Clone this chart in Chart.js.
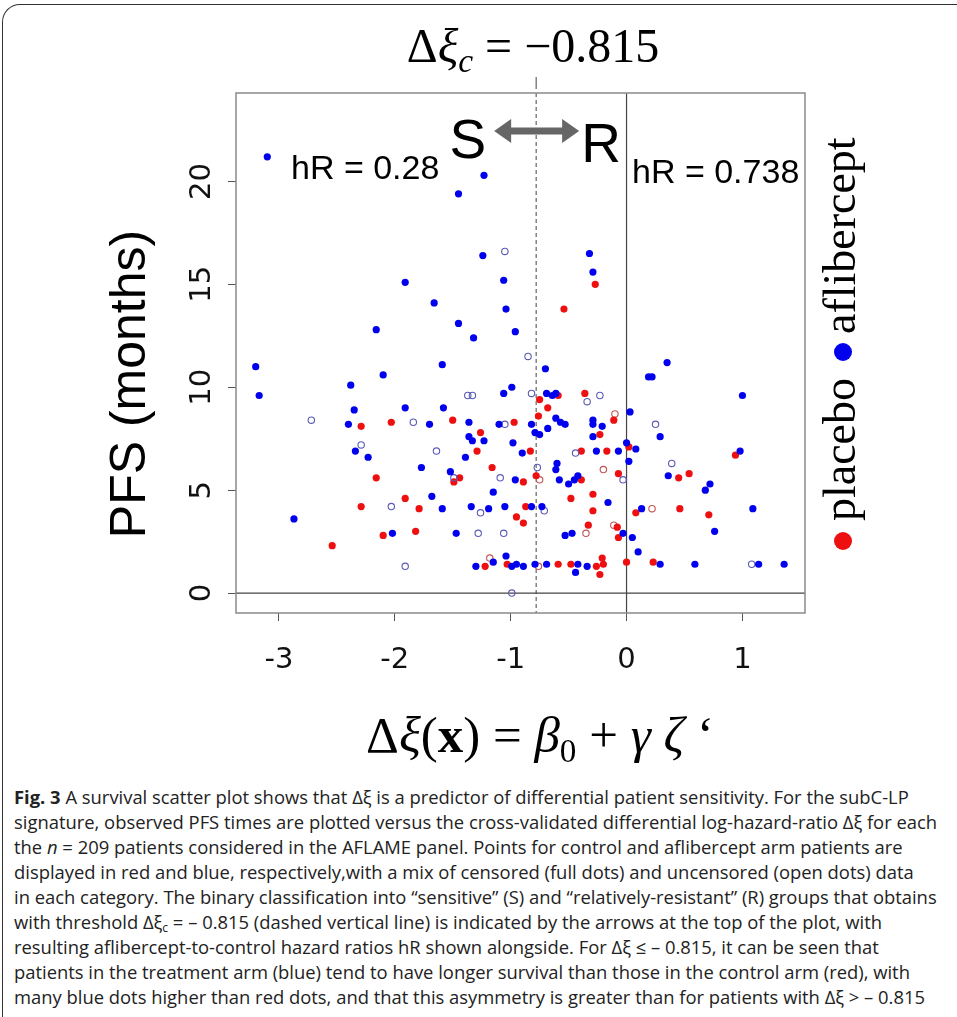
<!DOCTYPE html>
<html>
<head>
<meta charset="utf-8">
<script src="https://cdn.jsdelivr.net/npm/chart.js@4.4.1/dist/chart.umd.min.js"></script>
<style>
  html, body { margin: 0; padding: 0; background: #fff; }
  body { width: 957px; height: 1017px; overflow: hidden; position: relative; }
  #frame { position: absolute; left: 2px; top: 4px; width: 1000px; height: 1100px;
           border-left: 1.5px solid #333; border-top: 1.5px solid #333; border-top-left-radius: 18px; }
  #wrap { position: absolute; left: 0; top: 0; width: 957px; height: 775px; }
  #cap { position: absolute; left: 14px; top: 784px; font-family: "Open Sans"; font-size: 18.4px;
         line-height: 25px; color: #222; white-space: nowrap; }
  #cap .sub { font-size: 12px; line-height: 0; vertical-align: -3px; }
</style>
</head>
<body>
<div id="frame"></div>
<div id="wrap"><canvas id="c" width="957" height="775"></canvas></div>
<div id="cap"><b>Fig. 3</b> A survival scatter plot shows that Δξ is a predictor of differential patient sensitivity. For the subC-LP<br>
signature, observed PFS times are plotted versus the cross-validated differential log-hazard-ratio Δξ for each<br>
the <i>n</i> = 209 patients considered in the AFLAME panel. Points for control and aflibercept arm patients are<br>
displayed in red and blue, respectively,with a mix of censored (full dots) and uncensored (open dots) data<br>
in each category. The binary classification into “sensitive” (S) and “relatively-resistant” (R) groups that obtains<br>
with threshold Δξ<span class="sub">c</span> = – 0.815 (dashed vertical line) is indicated by the arrows at the top of the plot, with<br>
resulting aflibercept-to-control hazard ratios hR shown alongside. For Δξ ≤ – 0.815, it can be seen that<br>
patients in the treatment arm (blue) tend to have longer survival than those in the control arm (red), with<br>
many blue dots higher than red dots, and that this asymmetry is greater than for patients with Δξ &gt; – 0.815</div>

<script>
// ---- axes ----
const X_TICKS = [-3, -2, -1, 0, 1];
const Y_TICKS = [0, 5, 10, 15, 20];
const X_MIN = -3.37, X_MAX = 1.54;
const Y_MIN = -0.97, Y_MAX = 24.3;
const THRESHOLD = -0.78;   // where the dashed line sits in the picture (labelled -0.815)

// ---- data: [dxi, PFS months] ----
// aflibercept arm, full dots
const afliFull = [
  [-3.10,21.2],[-1.23,20.3],[-1.45,19.4],[-1.24,16.4],[-0.32,16.5],[-0.29,15.6],
  [-1.91,15.1],[-1.66,14.1],[-2.16,12.8],[-3.20,11.0],[-2.10,10.6],[-2.38,10.1],[-3.17,9.6],
  [-2.35,8.9],[-1.91,9.0],[-2.40,8.2],[-1.70,8.2],
  [-1.06,15.2],[-1.04,13.8],[-1.45,13.1],[-1.32,12.4],[-0.96,12.7],[-1.59,11.1],[-0.70,10.9],
  [-0.99,10.0],[-1.06,9.7],[-0.69,9.7],[-0.64,9.6],[-0.61,9.7],[-1.58,9.0],[0.03,8.8],
  [-1.36,8.3],[-1.10,8.2],[-0.82,8.2],[-0.61,8.5],[-0.57,8.3],[-0.53,8.2],[-0.29,8.4],
  [-0.29,8.2],[-0.21,8.1],[-1.36,7.6],[-0.79,7.8],[-0.75,7.7],[-0.68,8.0],[-0.29,7.6],
  [0.35,11.2],[0.19,10.5],[0.22,10.5],[1.00,9.6],[0.29,7.6],
  [-2.34,6.9],[-2.23,6.6],[-1.77,6.1],[-1.68,4.7],[-2.87,3.6],[-2.02,2.9],
  [-1.33,7.4],[-1.23,7.4],[-1.39,6.6],[-0.98,7.3],[-0.90,6.8],[-0.26,6.9],[-0.07,6.9],[0.00,7.3],
  [-1.52,5.9],[-0.96,5.5],[-0.60,6.3],[-0.61,6.0],[-0.58,5.5],[-0.50,5.3],[-0.45,5.5],[-0.42,5.7],
  [-1.15,4.9],[-0.16,4.4],[-1.59,4.1],[-1.34,4.2],[-1.19,4.1],[-1.05,4.2],[-0.82,4.2],[-0.73,4.2],
  [-0.03,2.9],[-1.47,2.9],[-0.53,2.8],[-0.47,2.9],[-1.04,1.8],[-1.15,1.5],
  [-1.30,1.3],[-0.95,1.4],[-0.99,1.3],[-0.89,1.3],[-0.79,1.4],[-0.69,1.4],[-0.42,1.4],[-0.44,1.0],[-0.34,1.3],
  [0.08,7.0],[0.02,6.4],[0.36,5.7],[0.72,5.3],[0.68,5.0],[0.98,6.9],[0.13,4.1],[1.09,4.1],
  [0.76,3.0],[0.05,2.7],[0.10,2.0],[0.29,1.4],[0.59,1.4],[1.14,1.4],[1.36,1.4]
];
// aflibercept arm, open dots
const afliOpen = [
  [-1.05,16.6],[-0.85,11.5],[-1.37,9.6],[-1.33,9.6],[-0.82,9.7],[-0.23,9.6],[-0.34,9.3],
  [-1.05,8.2],[-2.72,8.4],[-1.84,8.3],[0.25,8.2],[-2.29,7.2],[-2.03,4.2],[-1.91,1.3],
  [-1.64,6.9],[-1.49,5.6],[-1.09,5.6],[-0.77,6.1],[-0.44,6.8],[-0.03,5.5],[-1.26,3.9],
  [-0.71,4.0],[-1.28,2.9],[-1.06,2.9],[-0.99,0.0],[0.39,6.3],[1.08,1.4]
];
// placebo arm, full dots
const placFull = [
  [-0.27,15.0],[-0.54,13.8],[-0.59,9.6],[-0.36,9.7],[-0.75,9.4],[-0.68,9.0],[-0.76,8.6],
  [-1.50,8.4],[-0.97,8.3],[-0.11,8.4],[-1.26,7.8],[-0.23,7.7],[-2.29,8.1],[-2.03,8.3],
  [-2.16,5.6],[-1.91,4.6],[-2.29,4.2],[-1.79,4.1],[-1.82,3.0],[-2.10,2.8],[-2.54,2.3],
  [-1.29,6.9],[-0.83,6.9],[-0.39,6.9],[-0.17,6.9],[0.02,7.1],[-1.44,5.6],[-1.49,5.4],
  [-1.16,6.1],[-0.89,5.4],[-0.78,5.7],[-0.39,5.5],[-0.07,5.8],[-0.48,4.6],[-0.29,4.8],
  [-0.87,4.2],[-0.95,3.7],[-0.89,3.4],[-0.29,4.0],[-0.33,3.3],[-0.08,3.2],[-0.07,2.7],
  [-1.22,1.3],[-1.03,1.4],[-0.59,1.4],[-0.48,1.4],[-0.26,1.3],[-0.21,1.7],[-0.20,1.4],
  [-0.23,0.9],[0.00,1.5],[0.45,5.6],[0.54,5.8],[0.94,6.7],[0.08,3.9],[0.46,4.1],[0.71,3.8],[0.23,1.5]
];
// placebo arm, open dots
const placOpen = [
  [-0.10,8.7],[-0.75,5.5],[-0.20,6.0],[-0.35,2.9],[-0.11,3.3],[-1.18,1.7],[-0.76,1.3],[0.22,4.1]
];

const BLUE = '#0000ee', RED = '#ee1010';
const toPts = a => a.map(([x, y]) => ({ x, y }));

// ---- text helpers ----
function richText(ctx, parts, cx, baseY, size) {
  const fontOf = p => `${p[1] || ''} ${size * (p[2] || 1)}px "Liberation Serif"`;
  let w = 0;
  const widths = parts.map(p => { ctx.font = fontOf(p); const m = ctx.measureText(p[0]).width; w += m; return m; });
  let x = cx - w / 2;
  ctx.textAlign = 'left';
  ctx.textBaseline = 'alphabetic';
  parts.forEach((p, i) => { ctx.font = fontOf(p); ctx.fillText(p[0], x, baseY + (p[3] || 0) * size); x += widths[i]; });
}

const decor = {
  id: 'decor',
  beforeDatasetsDraw(chart) {
    const { ctx, chartArea: a, scales: { x, y } } = chart;
    ctx.save();
    ctx.strokeStyle = '#444';
    ctx.lineWidth = 1.2;
    const y0 = y.getPixelForValue(0), x0 = x.getPixelForValue(0);
    ctx.beginPath();
    ctx.moveTo(a.left, y0); ctx.lineTo(a.right, y0);
    ctx.moveTo(x0, a.top); ctx.lineTo(x0, a.bottom);
    ctx.stroke();
    const xt = x.getPixelForValue(THRESHOLD);
    ctx.setLineDash([4, 3]);
    ctx.lineWidth = 1;
    ctx.beginPath(); ctx.moveTo(xt, a.top); ctx.lineTo(xt, a.bottom); ctx.stroke();
    ctx.setLineDash([]);
    ctx.beginPath(); ctx.moveTo(xt, a.top - 16); ctx.lineTo(xt, a.top - 4); ctx.stroke();
    ctx.strokeStyle = '#8a8a8a';
    ctx.lineWidth = 1.5;
    ctx.strokeRect(a.left, a.top, a.right - a.left, a.bottom - a.top);
    ctx.restore();
  },
  afterDraw(chart) {
    const { ctx, chartArea: a, scales: { x } } = chart;
    const xt = x.getPixelForValue(THRESHOLD);
    ctx.save();
    ctx.fillStyle = '#000';
    ctx.textBaseline = 'alphabetic';
    ctx.textAlign = 'left';
    ctx.font = '34px "Liberation Sans"';
    ctx.fillText('hR = 0.28', a.left + 55, a.top + 86);
    ctx.fillText('hR = 0.738', a.left + 396, a.top + 90);
    ctx.font = '55px "Liberation Sans"';
    ctx.textAlign = 'right';
    ctx.fillText('S', xt - 50, a.top + 65);
    ctx.textAlign = 'left';
    ctx.fillText('R', xt + 45, a.top + 69);
    // double arrow
    const cy = a.top + 38, l = xt - 42, r = xt + 43, hl = 17, hh = 12, sh = 3.5;
    ctx.fillStyle = '#666';
    ctx.beginPath();
    ctx.moveTo(l, cy); ctx.lineTo(l + hl, cy - hh); ctx.lineTo(l + hl, cy - sh);
    ctx.lineTo(r - hl, cy - sh); ctx.lineTo(r - hl, cy - hh); ctx.lineTo(r, cy);
    ctx.lineTo(r - hl, cy + hh); ctx.lineTo(r - hl, cy + sh); ctx.lineTo(l + hl, cy + sh);
    ctx.lineTo(l + hl, cy + hh); ctx.closePath(); ctx.fill();

    ctx.fillStyle = '#000';
    // top label
    richText(ctx, [['Δ'], ['ξ', 'italic'], ['c', 'italic', 0.7, 0.2], [' = −0.815']], 533, 62, 48);
    // x axis title
    richText(ctx, [['Δ'], ['ξ', 'italic'], ['('], ['x', 'bold'], [') = '], ['β', 'italic'],
                   ['0', '', 0.65, 0.2], [' + '], ['γ', 'italic'], [' '], ['ζ', 'italic'], [' ‘']],
             540, 752, 51);
    // y axis title
    ctx.save();
    ctx.translate(131, 384);
    ctx.rotate(-Math.PI / 2);
    ctx.font = '50px "Liberation Sans"';
    ctx.textAlign = 'center';
    ctx.textBaseline = 'middle';
    ctx.fillText('PFS (months)', 0, 0);
    ctx.restore();
    // legend (rotated)
    const lx = 843;
    ctx.fillStyle = RED;
    ctx.beginPath(); ctx.arc(lx, 541, 9, 0, Math.PI * 2); ctx.fill();
    ctx.fillStyle = BLUE;
    ctx.beginPath(); ctx.arc(lx, 352, 9, 0, Math.PI * 2); ctx.fill();
    ctx.fillStyle = '#000';
    ctx.font = '46px "Liberation Serif"';
    ctx.textAlign = 'left';
    ctx.textBaseline = 'middle';
    [['placebo', 521], ['aflibercept', 334]].forEach(([t, py]) => {
      ctx.save(); ctx.translate(lx, py); ctx.rotate(-Math.PI / 2); ctx.fillText(t, 0, 0); ctx.restore();
    });
    ctx.restore();
  }
};

const grid = { display: true, drawOnChartArea: false, drawTicks: true, tickLength: 8, color: '#555', lineWidth: 1 };

new Chart(document.getElementById('c'), {
  type: 'scatter',
  data: {
    datasets: [
      { label: 'aflibercept full', data: toPts(afliFull), backgroundColor: BLUE, borderWidth: 0, pointRadius: 3.6 },
      { label: 'aflibercept open', data: toPts(afliOpen), backgroundColor: 'rgba(0,0,0,0)', borderColor: '#5a5ab8', borderWidth: 1.1, pointRadius: 3.2 },
      { label: 'placebo full', data: toPts(placFull), backgroundColor: RED, borderWidth: 0, pointRadius: 3.6 },
      { label: 'placebo open', data: toPts(placOpen), backgroundColor: 'rgba(0,0,0,0)', borderColor: '#c05555', borderWidth: 1.1, pointRadius: 3.2 }
    ]
  },
  options: {
    responsive: false,
    animation: false,
    events: [],
    layout: { padding: { left: 100, top: 93, right: 152, bottom: 0 } },
    plugins: { legend: { display: false }, tooltip: { enabled: false } },
    scales: {
      x: {
        type: 'linear', min: X_MIN, max: X_MAX,
        afterBuildTicks: s => { s.ticks = X_TICKS.map(v => ({ value: v })); },
        afterFit: s => { s.height = 162; },
        grid, border: { display: false },
        ticks: { font: { family: 'DejaVu Sans', size: 29 }, color: '#111', padding: 22, minRotation: 0, maxRotation: 0 }
      },
      y: {
        type: 'linear', min: Y_MIN, max: Y_MAX,
        afterBuildTicks: s => { s.ticks = Y_TICKS.map(v => ({ value: v })); },
        afterFit: s => { s.width = 136; },
        grid, border: { display: false },
        ticks: { font: { family: 'DejaVu Sans', size: 29 }, color: '#111', padding: 7,
                 minRotation: 90, maxRotation: 90, crossAlign: 'center' }
      }
    }
  },
  plugins: [decor]
});
</script>
</body>
</html>
